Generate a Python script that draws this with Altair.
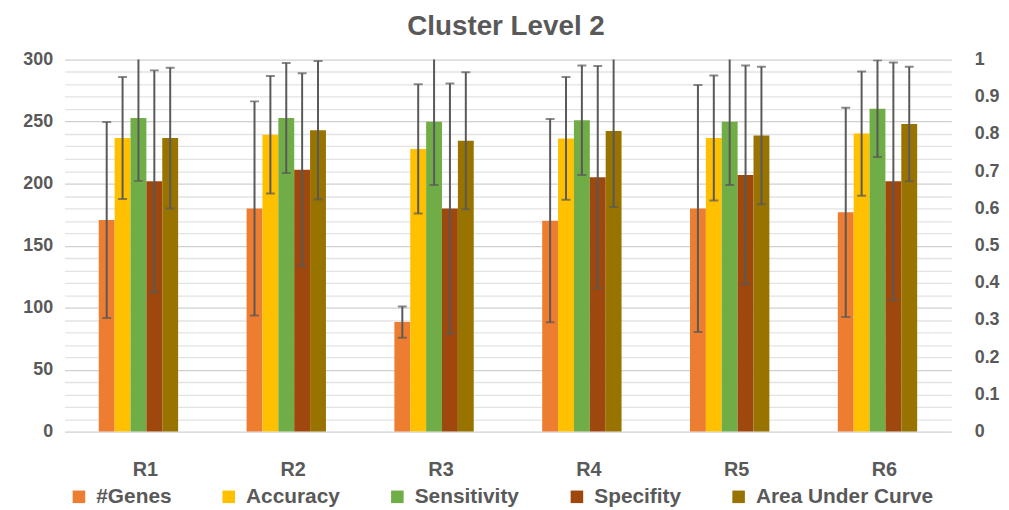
import altair as alt
import pandas as pd

groups = ["R1", "R2", "R3", "R4", "R5", "R6"]
series = ["#Genes", "Accuracy", "Sensitivity", "Specifity", "Area Under Curve"]
colors = ["#ED7D31", "#FFC000", "#70AD47", "#9E480E", "#997300"]

genes_mean = [170.7, 180.0, 88.3, 170.1, 180.0, 176.8]
genes_err = [79.0, 86.3, 12.6, 82.0, 99.6, 84.4]

accuracy_mean = [0.789, 0.798, 0.760, 0.788, 0.789, 0.801]
accuracy_err = [0.164, 0.158, 0.174, 0.165, 0.168, 0.167]
sensitivity_mean = [0.843, 0.843, 0.833, 0.837, 0.833, 0.868]
sensitivity_err = [0.169, 0.148, 0.170, 0.147, 0.170, 0.130]
specifity_mean = [0.673, 0.704, 0.600, 0.684, 0.690, 0.673]
specifity_err = [0.298, 0.259, 0.336, 0.299, 0.294, 0.319]
auc_mean = [0.789, 0.810, 0.782, 0.808, 0.796, 0.827]
auc_err = [0.189, 0.186, 0.184, 0.204, 0.185, 0.154]

genes_df = pd.DataFrame({"group": groups, "series": "#Genes",
                         "value": genes_mean, "err": genes_err})
rows = []
for name, m, e in [("Accuracy", accuracy_mean, accuracy_err),
                   ("Sensitivity", sensitivity_mean, sensitivity_err),
                   ("Specifity", specifity_mean, specifity_err),
                   ("Area Under Curve", auc_mean, auc_err)]:
    for g, mv, ev in zip(groups, m, e):
        rows.append({"group": g, "series": name, "value": mv, "err": ev})
metric_df = pd.DataFrame(rows)

FONT = "Liberation Sans"
GRAY = "#595959"

x_axis = alt.Axis(title=None, labelAngle=0, ticks=False, domain=False, grid=False,
                  labelFontSize=20, labelFontWeight="bold", labelColor=GRAY,
                  labelFont=FONT, labelPadding=28, labelOffset=7)
x_enc = alt.X("group:N", sort=groups,
              scale=alt.Scale(range=[-8, 886], paddingInner=0.463, paddingOuter=0.2315),
              axis=x_axis)
xoff = alt.XOffset("series:N", sort=series,
                   scale=alt.Scale(domain=series, paddingInner=0, paddingOuter=0))
color_enc = alt.Color("series:N", sort=series,
                      scale=alt.Scale(domain=series, range=colors),
                      legend=alt.Legend(title=None, orient="none", direction="horizontal",
                                        legendX=-4, legendY=430, symbolType="square",
                                        symbolSize=160, symbolStrokeWidth=0,
                                        labelFontSize=21, labelFontWeight="bold",
                                        labelColor=GRAY, labelFont=FONT, labelLimit=400,
                                        columnPadding=47, symbolOffset=0, labelOffset=7))


def make_layer(df, domain, axis):
    base = alt.Chart(df).transform_calculate(
        lo="datum.value - datum.err", hi="datum.value + datum.err")
    yscale = alt.Scale(domain=domain, nice=False)
    bars = base.mark_bar(width=16).encode(
        x=x_enc, xOffset=xoff,
        y=alt.Y("value:Q", scale=yscale, axis=axis),
        color=color_enc)
    rule = base.mark_rule(color=GRAY, strokeWidth=2, clip=True).encode(
        x=x_enc, xOffset=xoff,
        y=alt.Y("lo:Q", scale=yscale, axis=axis), y2="hi:Q")
    cap_lo = base.mark_tick(color=GRAY, thickness=2, size=9, clip=True).encode(
        x=x_enc, xOffset=xoff, y=alt.Y("lo:Q", scale=yscale, axis=axis))
    cap_hi = base.mark_tick(color=GRAY, thickness=2, size=9, clip=True).encode(
        x=x_enc, xOffset=xoff, y=alt.Y("hi:Q", scale=yscale, axis=axis))
    return alt.layer(bars, rule, cap_lo, cap_hi)


left_axis = alt.Axis(title=None, orient="left", values=list(range(0, 301, 10)),
                     labelExpr="datum.value % 50 == 0 ? datum.label : ''",
                     ticks=False, domain=False, grid=True,
                     gridColor={"condition": {"test": "datum.value % 50 == 0", "value": "#D0D0D0"},
                                "value": "#E3E3E3"},
                     gridWidth=1.3,
                     labelFontSize=18, labelFontWeight="bold", labelColor=GRAY,
                     labelFont=FONT, labelPadding=20)
right_axis = alt.Axis(title=None, orient="right", values=[i / 10 for i in range(11)],
                      labelExpr="format(datum.value, '~g')",
                      ticks=False, domain=False, grid=False,
                      labelFontSize=18, labelFontWeight="bold", labelColor=GRAY,
                      labelFont=FONT, labelPadding=19)

left = make_layer(genes_df, [0, 300], left_axis)
right = make_layer(metric_df, [0, 1], right_axis)

chart = alt.layer(left, right).resolve_scale(y="independent").properties(
    width=890, height=375,
    title=alt.TitleParams("Cluster Level 2", fontSize=28, fontWeight="bold", color=GRAY,
                          font=FONT, anchor="middle", offset=10, dx=-8),
    autosize=alt.AutoSizeParams(type="none"),
    padding={"left": 65, "top": 50, "right": 46, "bottom": 74},
    background="white",
).configure_view(stroke=None)

chart.save("out.html", embed_options={"renderer": "svg", "actions": False})
